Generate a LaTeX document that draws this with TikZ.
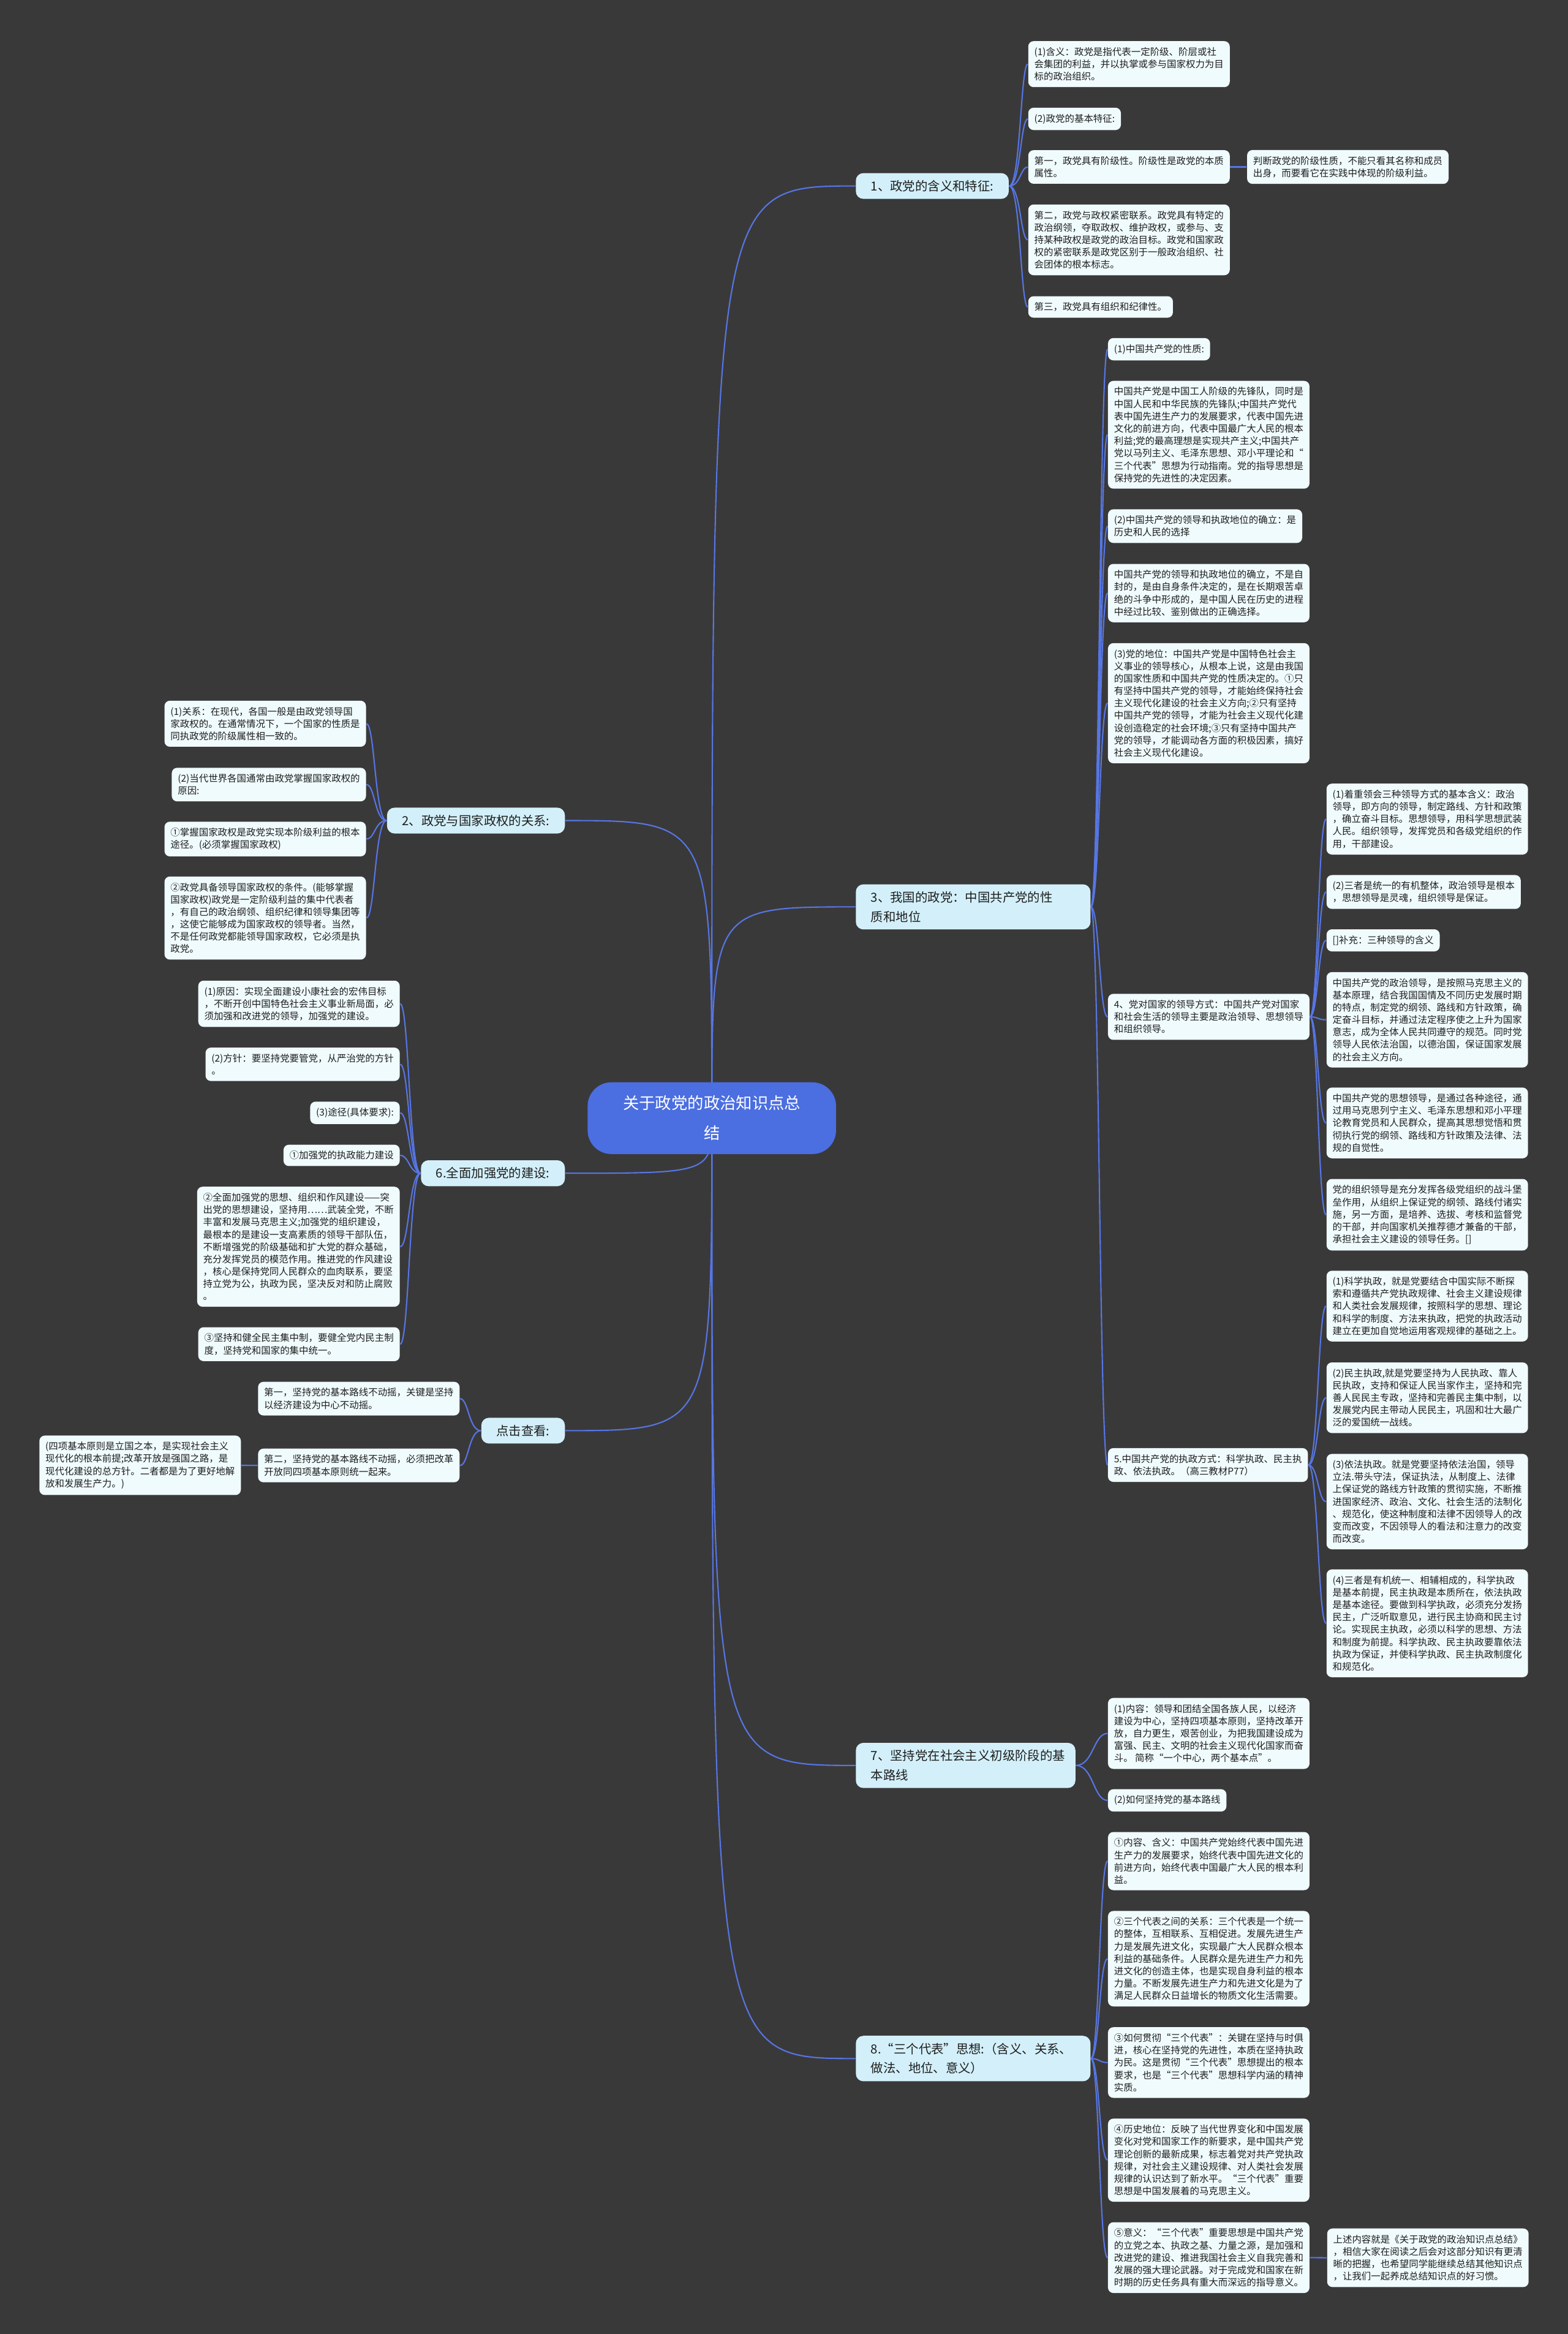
\documentclass[tikz,border=0pt]{standalone}
\usepackage{fontspec}
\setmainfont{Noto Sans CJK SC}
\usepackage{tikz}
\usetikzlibrary{backgrounds}
\definecolor{mbg}{HTML}{3A393A}
\definecolor{mblue}{HTML}{4B6EE0}
\definecolor{mline}{HTML}{5676E3}
\definecolor{mtopic}{HTML}{D3F0FA}
\definecolor{mleaf}{HTML}{F0FBFD}
\definecolor{mink}{HTML}{1E1E1E}
\newcommand{\leaffont}{\fontsize{4.4pt}{5.74pt}\selectfont}
\newcommand{\topicfont}{\fontsize{5.8pt}{9pt}\selectfont}
\newcommand{\rootfont}{\fontsize{7.5pt}{14pt}\selectfont}

\begin{document}
\begin{tikzpicture}[x=0.6911pt,y=-0.6911pt,
  mainbox/.style={fill=mblue,text=white,rounded corners=11pt,align=center,text width=84pt,inner xsep=15.7pt,inner ysep=6.2pt,font=\rootfont},
  topicbox/.style={fill=mtopic,text=mink,rounded corners=3.5pt,align=left,inner xsep=7pt,inner ysep=3.3pt,font=\topicfont},
  leafbox/.style={fill=mleaf,text=mink,rounded corners=2.5pt,align=left,inner xsep=2.8pt,inner ysep=2.9pt,font=\leaffont},
  linkline/.style={draw=mline,line width=0.6pt}]

\useasboundingbox (0,0) rectangle (1054,1568.65);

% ================= centre =================
\node[mainbox] (root) at (478.5,751.5) {关于政党的政治知识点总\\结};

% ================= 1 =================
\node[topicbox,anchor=west] (t1) at (575,125) {1、政党的含义和特征:};
\node[leafbox,anchor=west] (t1a) at (690.9,43.1) {(1)含义：政党是指代表一定阶级、阶层或社\\会集团的利益，并以执掌或参与国家权力为目\\标的政治组织。};
\node[leafbox,anchor=west] (t1b) at (690.9,79.9) {(2)政党的基本特征:};
\node[leafbox,anchor=west] (t1c) at (690.9,112.2) {第一，政党具有阶级性。阶级性是政党的本质\\属性。};
\node[leafbox,anchor=west] (t1c1) at (838,112.2) {判断政党的阶级性质，不能只看其名称和成员\\出身，而要看它在实践中体现的阶级利益。};
\node[leafbox,anchor=west] (t1d) at (690.9,161.2) {第二，政党与政权紧密联系。政党具有特定的\\政治纲领，夺取政权、维护政权，或参与、支\\持某种政权是政党的政治目标。政党和国家政\\权的紧密联系是政党区别于一般政治组织、社\\会团体的根本标志。};
\node[leafbox,anchor=west] (t1e) at (690.9,206.3) {第三，政党具有组织和纪律性。};

% ================= 3 =================
\node[topicbox,anchor=west,text width=95pt] (t3) at (575,609.5) {3、我国的政党：中国共产党的性\\质和地位};
\node[leafbox,anchor=west] (t3a) at (744.5,234.7) {(1)中国共产党的性质:};
\node[leafbox,anchor=west] (t3b) at (744.5,292.2) {中国共产党是中国工人阶级的先锋队，同时是\\中国人民和中华民族的先锋队;中国共产党代\\表中国先进生产力的发展要求，代表中国先进\\文化的前进方向，代表中国最广大人民的根本\\利益;党的最高理想是实现共产主义;中国共产\\党以马列主义、毛泽东思想、邓小平理论和“\\三个代表”思想为行动指南。党的指导思想是\\保持党的先进性的决定因素。};
\node[leafbox,anchor=west] (t3c) at (744.5,353.6) {(2)中国共产党的领导和执政地位的确立：是\\历史和人民的选择};
\node[leafbox,anchor=west] (t3d) at (744.5,398.6) {中国共产党的领导和执政地位的确立，不是自\\封的，是由自身条件决定的，是在长期艰苦卓\\绝的斗争中形成的，是中国人民在历史的进程\\中经过比较、鉴别做出的正确选择。};
\node[leafbox,anchor=west] (t3e) at (744.5,472.6) {(3)党的地位：中国共产党是中国特色社会主\\义事业的领导核心，从根本上说，这是由我国\\的国家性质和中国共产党的性质决定的。①只\\有坚持中国共产党的领导，才能始终保持社会\\主义现代化建设的社会主义方向;②只有坚持\\中国共产党的领导，才能为社会主义现代化建\\设创造稳定的社会环境;③只有坚持中国共产\\党的领导，才能调动各方面的积极因素，搞好\\社会主义现代化建设。};
\node[leafbox,anchor=west] (t3f) at (744.5,683.4) {4、党对国家的领导方式：中国共产党对国家\\和社会生活的领导主要是政治领导、思想领导\\和组织领导。};
\node[leafbox,anchor=west] (t3g) at (744.5,984.6) {5.中国共产党的执政方式：科学执政、民主执\\政、依法执政。（高三教材P77）};
% leadership
\node[leafbox,anchor=west] (t3f1) at (891.4,550.5) {(1)着重领会三种领导方式的基本含义：政治\\领导，即方向的领导，制定路线、方针和政策\\，确立奋斗目标。思想领导，用科学思想武装\\人民。组织领导，发挥党员和各级党组织的作\\用，干部建设。};
\node[leafbox,anchor=west] (t3f2) at (891.4,599.5) {(2)三者是统一的有机整体，政治领导是根本\\，思想领导是灵魂，组织领导是保证。};
\node[leafbox,anchor=west] (t3f3) at (891.4,632) {[]补充：三种领导的含义};
\node[leafbox,anchor=west] (t3f4) at (891.4,685.4) {中国共产党的政治领导，是按照马克思主义的\\基本原理，结合我国国情及不同历史发展时期\\的特点，制定党的纲领、路线和方针政策，确\\定奋斗目标，并通过法定程序使之上升为国家\\意志，成为全体人民共同遵守的规范。同时党\\领导人民依法治国，以德治国，保证国家发展\\的社会主义方向。};
\node[leafbox,anchor=west] (t3f5) at (891.4,754.7) {中国共产党的思想领导，是通过各种途径，通\\过用马克思列宁主义、毛泽东思想和邓小平理\\论教育党员和人民群众，提高其思想觉悟和贯\\彻执行党的纲领、路线和方针政策及法律、法\\规的自觉性。};
\node[leafbox,anchor=west] (t3f6) at (891.4,816.4) {党的组织领导是充分发挥各级党组织的战斗堡\\垒作用，从组织上保证党的纲领、路线付诸实\\施，另一方面，是培养、选拔、考核和监督党\\的干部，并向国家机关推荐德才兼备的干部，\\承担社会主义建设的领导任务。[]};
% governing
\node[leafbox,anchor=west] (t3g1) at (891.4,877.8) {(1)科学执政，就是党要结合中国实际不断探\\索和遵循共产党执政规律、社会主义建设规律\\和人类社会发展规律，按照科学的思想、理论\\和科学的制度、方法来执政，把党的执政活动\\建立在更加自觉地运用客观规律的基础之上。};
\node[leafbox,anchor=west] (t3g2) at (891.4,939.4) {(2)民主执政,就是党要坚持为人民执政、靠人\\民执政，支持和保证人民当家作主，坚持和完\\善人民民主专政，坚持和完善民主集中制，以\\发展党内民主带动人民民主，巩固和壮大最广\\泛的爱国统一战线。};
\node[leafbox,anchor=west] (t3g3) at (891.4,1009.2) {(3)依法执政。就是党要坚持依法治国，领导\\立法.带头守法，保证执法，从制度上、法律\\上保证党的路线方针政策的贯彻实施，不断推\\进国家经济、政治、文化、社会生活的法制化\\、规范化，使这种制度和法律不因领导人的改\\变而改变，不因领导人的看法和注意力的改变\\而改变。};
\node[leafbox,anchor=west] (t3g4) at (891.4,1091) {(4)三者是有机统一、相辅相成的，科学执政\\是基本前提，民主执政是本质所在，依法执政\\是基本途径。要做到科学执政，必须充分发扬\\民主，广泛听取意见，进行民主协商和民主讨\\论。实现民主执政，必须以科学的思想、方法\\和制度为前提。科学执政、民主执政要靠依法\\执政为保证，并使科学执政、民主执政制度化\\和规范化。};

% ================= 7 =================
\node[topicbox,anchor=west,text width=88pt] (t7) at (575,1186.5) {7、坚持党在社会主义初级阶段的基\\本路线};
\node[leafbox,anchor=west] (t7a) at (744.5,1165) {(1)内容：领导和团结全国各族人民，以经济\\建设为中心，坚持四项基本原则，坚持改革开\\放，自力更生，艰苦创业，为把我国建设成为\\富强、民主、文明的社会主义现代化国家而奋\\斗。 简称“一个中心，两个基本点”。};
\node[leafbox,anchor=west] (t7b) at (744.5,1210) {(2)如何坚持党的基本路线};

% ================= 8 =================
\node[topicbox,anchor=west,text width=95pt] (t8) at (575,1383.5) {8.“三个代表”思想:（含义、关系、\\做法、地位、意义）};
\node[leafbox,anchor=west] (t8a) at (744.5,1250.8) {①内容、含义：中国共产党始终代表中国先进\\生产力的发展要求，始终代表中国先进文化的\\前进方向，始终代表中国最广大人民的根本利\\益。};
\node[leafbox,anchor=west] (t8b) at (744.5,1316.4) {②三个代表之间的关系：三个代表是一个统一\\的整体，互相联系、互相促进。发展先进生产\\力是发展先进文化，实现最广大人民群众根本\\利益的基础条件。人民群众是先进生产力和先\\进文化的创造主体，也是实现自身利益的根本\\力量。不断发展先进生产力和先进文化是为了\\满足人民群众日益增长的物质文化生活需要。};
\node[leafbox,anchor=west] (t8c) at (744.5,1386.2) {③如何贯彻“三个代表”：关键在坚持与时俱\\进，核心在坚持党的先进性，本质在坚持执政\\为民。这是贯彻“三个代表”思想提出的根本\\要求，也是“三个代表”思想科学内涵的精神\\实质。};
\node[leafbox,anchor=west] (t8d) at (744.5,1451.8) {④历史地位：反映了当代世界变化和中国发展\\变化对党和国家工作的新要求，是中国共产党\\理论创新的最新成果，标志着党对共产党执政\\规律，对社会主义建设规律、对人类社会发展\\规律的认识达到了新水平。“三个代表”重要\\思想是中国发展着的马克思主义。};
\node[leafbox,anchor=west] (t8e) at (744.5,1517.3) {⑤意义：“三个代表”重要思想是中国共产党\\的立党之本、执政之基、力量之源，是加强和\\改进党的建设、推进我国社会主义自我完善和\\发展的强大理论武器。对于完成党和国家在新\\时期的历史任务具有重大而深远的指导意义。};
\node[leafbox,anchor=west] (t8e1) at (891.8,1517.4) {上述内容就是《关于政党的政治知识点总结》\\，相信大家在阅读之后会对这部分知识有更清\\晰的把握，也希望同学能继续总结其他知识点\\，让我们一起养成总结知识点的好习惯。};

% ================= 2 (left) =================
\node[topicbox,anchor=east] (t2) at (380,551.5) {2、政党与国家政权的关系:};
\node[leafbox,anchor=east] (t2a) at (246.3,486.4) {(1)关系：在现代，各国一般是由政党领导国\\家政权的。在通常情况下，一个国家的性质是\\同执政党的阶级属性相一致的。};
\node[leafbox,anchor=east] (t2b) at (246.3,527.3) {(2)当代世界各国通常由政党掌握国家政权的\\原因:};
\node[leafbox,anchor=east] (t2c) at (246.3,563.9) {①掌握国家政权是政党实现本阶级利益的根本\\途径。(必须掌握国家政权)};
\node[leafbox,anchor=east] (t2d) at (246.3,617) {②政党具备领导国家政权的条件。(能够掌握\\国家政权)政党是一定阶级利益的集中代表者\\，有自己的政治纲领、组织纪律和领导集团等\\，这使它能够成为国家政权的领导者。当然，\\不是任何政党都能领导国家政权，它必须是执\\政党。};

% ================= 6 (left) =================
\node[topicbox,anchor=east] (t6) at (380,788.5) {6.全面加强党的建设:};
\node[leafbox,anchor=east] (t6a) at (269,674.6) {(1)原因：实现全面建设小康社会的宏伟目标\\，不断开创中国特色社会主义事业新局面，必\\须加强和改进党的领导，加强党的建设。};
\node[leafbox,anchor=east] (t6b) at (269,715.3) {(2)方针：要坚持党要管党，从严治党的方针\\。};
\node[leafbox,anchor=east] (t6c) at (269,747.9) {(3)途径(具体要求):};
\node[leafbox,anchor=east] (t6d) at (269,776.5) {①加强党的执政能力建设};
\node[leafbox,anchor=east] (t6e) at (269,837.9) {②全面加强党的思想、组织和作风建设——突\\出党的思想建设，坚持用……武装全党，不断\\丰富和发展马克思主义;加强党的组织建设，\\最根本的是建设一支高素质的领导干部队伍，\\不断增强党的阶级基础和扩大党的群众基础，\\充分发挥党员的模范作用。推进党的作风建设\\，核心是保持党同人民群众的血肉联系，要坚\\持立党为公，执政为民，坚决反对和防止腐败\\。};
\node[leafbox,anchor=east] (t6f) at (269,903.4) {③坚持和健全民主集中制，要健全党内民主制\\度，坚持党和国家的集中统一。};

% ================= click (left) =================
\node[topicbox,anchor=east] (t9) at (380,961.5) {点击查看:};
\node[leafbox,anchor=east] (t9a) at (309.2,940) {第一，坚持党的基本路线不动摇，关键是坚持\\以经济建设为中心不动摇。};
\node[leafbox,anchor=east] (t9b) at (309.2,984.9) {第二，坚持党的基本路线不动摇，必须把改革\\开放同四项基本原则统一起来。};
\node[leafbox,anchor=east] (t9b1) at (162.2,984.8) {(四项基本原则是立国之本，是实现社会主义\\现代化的根本前提;改革开放是强国之路，是\\现代化建设的总方针。二者都是为了更好地解\\放和发展生产力。)};

% bracket columns
\coordinate (k1) at (686,0);
\coordinate (k1c) at (832,0);
\coordinate (k3) at (739,0);
\coordinate (k3f) at (886,0);
\coordinate (k7) at (735,0);
\coordinate (k8) at (739,0);
\coordinate (k8e) at (885,0);
\coordinate (k2) at (252,0);
\coordinate (k6) at (275,0);
\coordinate (k9) at (315,0);
\coordinate (k9b) at (168,0);

\begin{scope}[on background layer]
  \fill[mbg] (0,0) rectangle (1054,1568.65);
  % centre to topics
  \foreach \t in {t1,t3,t7,t8}
    \draw[linkline] (root.center) .. controls (root.center |- \t.west) .. (\t.west);
  \foreach \t in {t2,t6,t9}
    \draw[linkline] (root.center) .. controls (root.center |- \t.east) .. (\t.east);
  % right-hand brackets
  \foreach \c in {t1a,t1b,t1c,t1d,t1e}
    \draw[linkline] (t1.east) .. controls (k1 |- t1.east) and (k1 |- \c.west) .. (\c.west);
  \draw[linkline] (t1c.east) .. controls (k1c |- t1c.east) and (k1c |- t1c1.west) .. (t1c1.west);
  \foreach \c in {t3a,t3b,t3c,t3d,t3e,t3f,t3g}
    \draw[linkline] (t3.east) .. controls (k3 |- t3.east) and (k3 |- \c.west) .. (\c.west);
  \foreach \c in {t3f1,t3f2,t3f3,t3f4,t3f5,t3f6}
    \draw[linkline] (t3f.east) .. controls (k3f |- t3f.east) and (k3f |- \c.west) .. (\c.west);
  \foreach \c in {t3g1,t3g2,t3g3,t3g4}
    \draw[linkline] (t3g.east) .. controls (k3f |- t3g.east) and (k3f |- \c.west) .. (\c.west);
  \foreach \c in {t7a,t7b}
    \draw[linkline] (t7.east) .. controls (k7 |- t7.east) and (k7 |- \c.west) .. (\c.west);
  \foreach \c in {t8a,t8b,t8c,t8d,t8e}
    \draw[linkline] (t8.east) .. controls (k8 |- t8.east) and (k8 |- \c.west) .. (\c.west);
  \draw[linkline] (t8e.east) .. controls (k8e |- t8e.east) and (k8e |- t8e1.west) .. (t8e1.west);
  % left-hand brackets
  \foreach \c in {t2a,t2b,t2c,t2d}
    \draw[linkline] (t2.west) .. controls (k2 |- t2.west) and (k2 |- \c.east) .. (\c.east);
  \foreach \c in {t6a,t6b,t6c,t6d,t6e,t6f}
    \draw[linkline] (t6.west) .. controls (k6 |- t6.west) and (k6 |- \c.east) .. (\c.east);
  \foreach \c in {t9a,t9b}
    \draw[linkline] (t9.west) .. controls (k9 |- t9.west) and (k9 |- \c.east) .. (\c.east);
  \draw[linkline] (t9b.west) .. controls (k9b |- t9b.west) and (k9b |- t9b1.east) .. (t9b1.east);
\end{scope}
\end{tikzpicture}
\end{document}
